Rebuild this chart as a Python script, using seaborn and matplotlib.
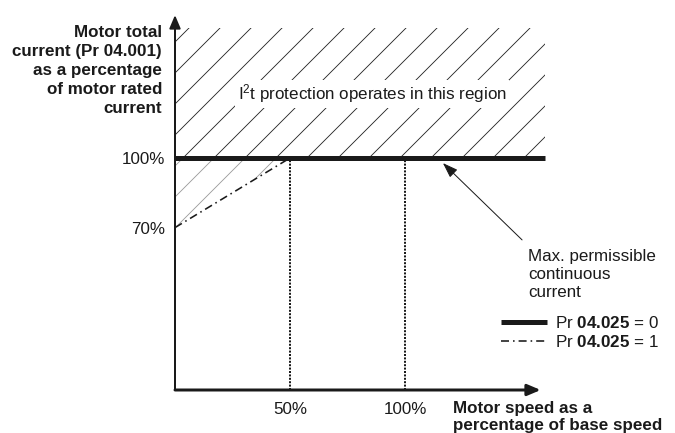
import matplotlib
matplotlib.use("Agg")
import matplotlib.pyplot as plt
import seaborn as sns

# ---------------- data ----------------
speed_mode0 = [0, 161]          # % base speed, extent of the Pr 04.025 = 0 limit
current_mode0 = [100, 100]      # % rated current
speed_mode1 = [0, 50]           # Pr 04.025 = 1 limit
current_mode1 = [70, 100]
protect_top = [156, 156]        # top of the hatched I2t region
speed_ticks = [50, 100]
speed_tick_labels = ["50%", "100%"]
current_ticks = [70, 100]
current_tick_labels = ["70%", "100%"]
x_axis_end = 159
y_axis_end = 161.6

# ---------------- figure geometry ----------------
DPI = 93
W, H = 675, 433
PT = 72 / DPI                  # points per pixel
INK = "#1a1a1a"

sns.set_theme(style="white")
plt.rcParams["font.family"] = ["Liberation Sans", "DejaVu Sans"]
plt.rcParams["mathtext.fontset"] = "custom"
plt.rcParams["mathtext.rm"] = "Liberation Sans"
plt.rcParams["mathtext.bf"] = "Liberation Sans:bold"
plt.rcParams["mathtext.it"] = "Liberation Sans:italic"
plt.rcParams["hatch.linewidth"] = 0.85 * PT
plt.rcParams["hatch.color"] = "#222222"
plt.rcParams["text.color"] = INK
plt.rcParams["xtick.color"] = INK
plt.rcParams["ytick.color"] = INK

FS = 17 * PT

fig = plt.figure(figsize=(W / DPI, H / DPI), dpi=DPI)
x0px, y0px = 175, 390
pxx, pxy = 2.3, 2.32
xmax, ymax = 170, 166
ax = fig.add_axes([x0px / W, (H - y0px) / H, xmax * pxx / W, ymax * pxy / H])
ax.set_xlim(0, xmax)
ax.set_ylim(0, ymax)
ax.set_facecolor("none")
for s in ax.spines.values():
    s.set_visible(False)


def fx(px):
    return px / W


def fy(py):
    return 1 - py / H


# hatched regions
ax.fill_between(speed_mode0, current_mode0, protect_top, facecolor="none",
                edgecolor="#222222", hatch="/", linewidth=0, zorder=1)
ax.fill_between(speed_mode1, current_mode1, current_mode0[:1] * 2, facecolor="none",
                edgecolor="#9a9a9a", hatch="/", linewidth=0, zorder=1)

# dotted verticals at 50% / 100% speed
ax.vlines(speed_ticks, 0, current_mode0[0], colors=INK,
          linestyles=[(0, (1, 0.7))], linewidth=2 * PT, zorder=2)

# limit lines
sns.lineplot(x=speed_mode0, y=current_mode0, color=INK, linewidth=5 * PT, ax=ax,
             label="Pr $\\mathbf{04.025}$ = 0", solid_capstyle="butt", zorder=4)
sns.lineplot(x=speed_mode1, y=current_mode1, color=INK, linewidth=1.6 * PT, ax=ax,
             linestyle=(0, (5, 2.5, 1, 2.5)), label="Pr $\\mathbf{04.025}$ = 1", zorder=3)
ax.set_xlabel("")
ax.set_ylabel("")

# axes with arrows
ax.annotate("", xy=(0, y_axis_end), xytext=(0, 0), annotation_clip=False,
            arrowprops=dict(arrowstyle="-|>,head_length=0.85,head_width=0.36",
                            mutation_scale=10, color=INK, lw=2 * PT,
                            shrinkA=0, shrinkB=0))
ax.annotate("", xy=(x_axis_end, 0), xytext=(0, 0), annotation_clip=False,
            arrowprops=dict(arrowstyle="-|>,head_length=0.85,head_width=0.36",
                            mutation_scale=10, color=INK, lw=3 * PT,
                            shrinkA=0, shrinkB=0))

# ticks
ax.set_xticks(speed_ticks, speed_tick_labels)
ax.set_yticks(current_ticks, current_tick_labels)
ax.tick_params(axis="x", length=0, pad=12 * PT, labelsize=FS)
ax.tick_params(axis="y", length=0, pad=10 * PT, labelsize=FS)

# axis titles
fig.text(fx(162), fy(70.5), "Motor total\ncurrent (Pr 04.001)\nas a percentage\nof motor rated\ncurrent",
         ha="right", va="center", multialignment="right", fontsize=FS,
         fontweight="bold", linespacing=1.32)
fig.text(fx(453), fy(417), "Motor speed as a\npercentage of base speed",
         ha="left", va="center", multialignment="left", fontsize=FS,
         fontweight="bold", linespacing=1.13)

# region label
ax.text((238 - x0px) / pxx, (y0px - 94) / pxy, "I$^2$t protection operates in this region",
        ha="left", va="center", fontsize=FS, zorder=5,
        bbox=dict(facecolor="white", edgecolor="none", pad=2))

# max permissible annotation
ax.annotate("", xy=(116.5, 97.8), xytext=(150.9, 64.7), annotation_clip=False,
            arrowprops=dict(arrowstyle="-|>,head_length=1.0,head_width=0.35",
                            mutation_scale=10, color=INK, lw=1 * PT,
                            shrinkA=0, shrinkB=0))
fig.text(fx(528), fy(274.5), "Max. permissible\ncontinuous\ncurrent",
         ha="left", va="center", multialignment="left", fontsize=FS, linespacing=1.22)

# legend
handles, labels = ax.get_legend_handles_labels()
ax.legend(handles, labels, loc="upper left", bbox_to_anchor=(fx(501), fy(315)),
          bbox_transform=fig.transFigure, frameon=False, borderpad=0,
          borderaxespad=0, handlelength=2.7, handletextpad=0.45,
          labelspacing=0.15, fontsize=FS)

fig.savefig("out.png", dpi=DPI, facecolor="white")
